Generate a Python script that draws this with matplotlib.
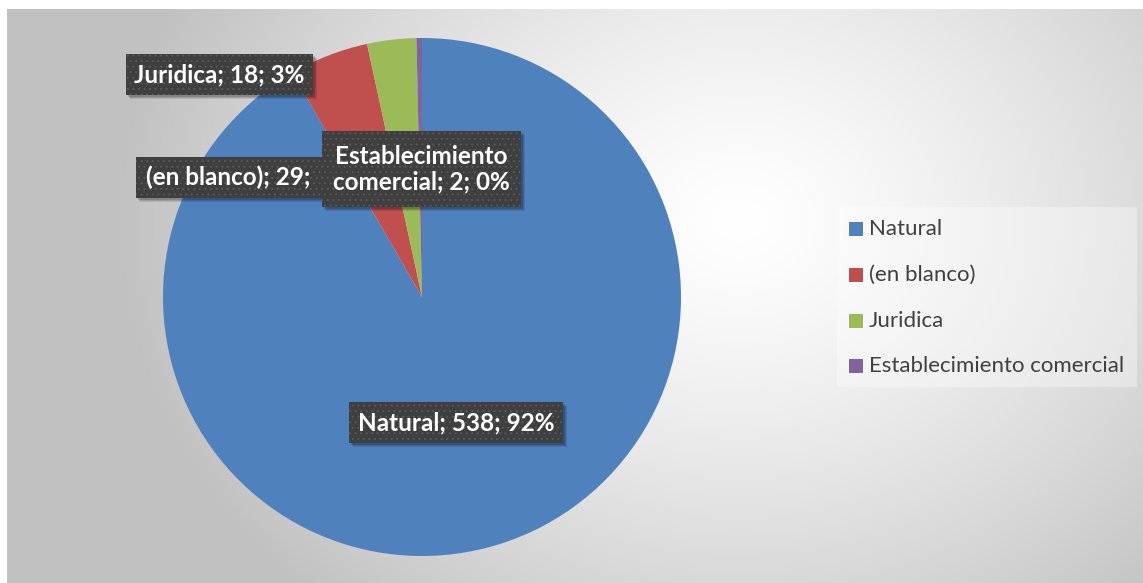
import numpy as np
import matplotlib
matplotlib.use("Agg")
import matplotlib.pyplot as plt
from matplotlib.patches import Rectangle

# Data
categories = ["Natural", "(en blanco)", "Juridica", "Establecimiento comercial"]
counts = [538, 29, 18, 2]
colors = ["#4F81BD", "#C0504D", "#9BBB59", "#8064A2"]

W, H = 1143, 583
plt.rcParams["font.family"] = ["Lato", "DejaVu Sans"]
plt.rcParams["hatch.linewidth"] = 0.6

fig = plt.figure(figsize=(W / 100, H / 100), dpi=100, facecolor="white")
ax = fig.add_axes([0, 0, 1, 1])

def py(y):
    """Convert a top-down pixel row into axis y."""
    return H - y

# Chart area with a soft radial gradient
x0, x1, y0, y1 = 7, W, 9, H
gx, gy = np.meshgrid(np.linspace(x0, x1, 400), np.linspace(y0, y1, 220))
d = np.hypot((gx - 740) / 620, (gy - 220) / 520)
shade = np.clip(1.0 - 0.24 * d ** 1.3, 0.76, 1.0)
img = np.dstack([shade, shade, shade])
ax.imshow(img, extent=(x0, x1, py(y1), py(y0)), origin="upper",
          aspect="auto", zorder=0, interpolation="bilinear")

# Pie
total = sum(counts)
ax.pie(counts, colors=colors, startangle=90, counterclock=False,
       center=(422, py(297)), radius=259, frame=True,
       wedgeprops=dict(linewidth=0))
ax.set_xlim(0, W)
ax.set_ylim(0, H)
ax.set_aspect("auto")
ax.axis("off")

pcts = [round(100 * c / total) for c in counts]
labels = [f"{cat}; {c}; {p}%" for cat, c, p in zip(categories, counts, pcts)]
# the "(en blanco)" callout sits partly beneath the neighbouring one,
# so only its leading part is shown
labels[1] = f"{categories[1]}; {counts[1]};"
labels[3] = f"Establecimiento\ncomercial; {counts[3]}; {pcts[3]}%"

def data_label(text, left, top, right, bottom, z, align="center", inset=7):
    """Dark dotted callout box with a drop shadow and white bold text."""
    w, h = right - left, bottom - top
    for k, a in [(4, 0.10), (3, 0.12), (2, 0.15)]:
        ax.add_patch(Rectangle((left + k, py(bottom) - k), w, h, fc="black",
                               ec="none", alpha=a, zorder=z))
    ax.add_patch(Rectangle((left, py(bottom)), w, h, fc="#3F3F3F",
                           ec="#5C5C5C", lw=0, hatch="...", zorder=z + 0.1))
    tx = left + w / 2 if align == "center" else left + inset
    ax.text(tx, py(top + h / 2), text, color="white",
            fontsize=17.5, fontweight="bold", ha=align, va="center",
            linespacing=1.1, zorder=z + 0.2)

data_label(labels[0], 349, 402, 563, 443, 5)
data_label(labels[2], 126, 54, 313, 95, 5)
data_label(labels[1], 136, 157, 370, 198, 5, align="left", inset=10)
data_label(labels[3], 322, 131, 521, 207, 6)

# Legend
ax.add_patch(Rectangle((837, py(387)), 300, 180, fc="white", alpha=0.35,
                       ec="none", zorder=3))
rows = [229, 275, 321, 366]
for cat, col, ry in zip(categories, colors, rows):
    ax.add_patch(Rectangle((849, py(ry + 7)), 14, 14, fc=col, ec="none", zorder=4))
    ax.text(869, py(ry), cat, color="#404040", fontsize=16,
            ha="left", va="center", zorder=4)

fig.savefig("out.png", dpi=100, facecolor="white")
